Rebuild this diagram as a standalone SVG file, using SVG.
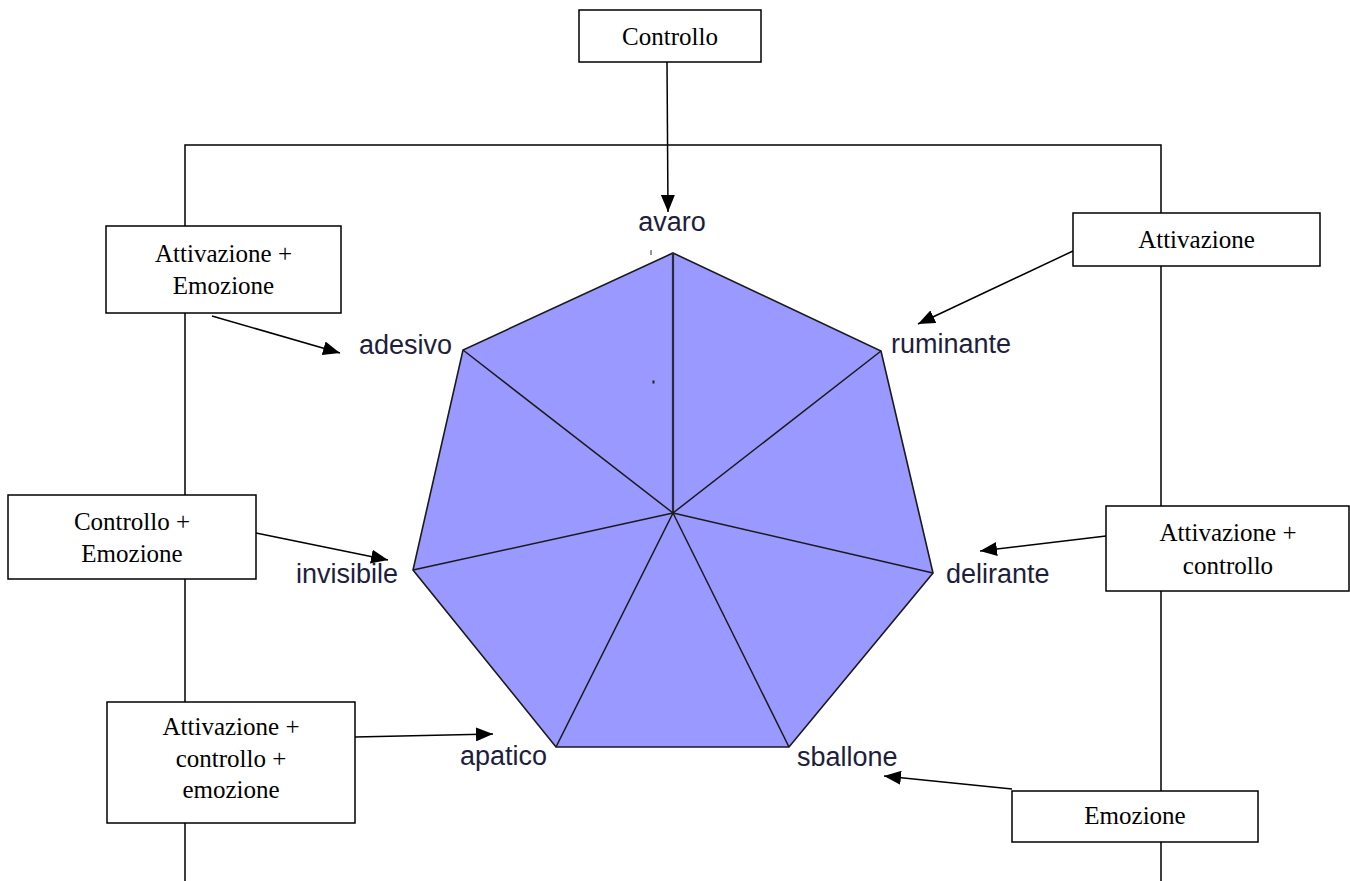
<svg xmlns="http://www.w3.org/2000/svg" width="1350" height="881" viewBox="0 0 1350 881">
<defs>
<style>
.box{fill:#fff;stroke:#000;stroke-width:1.5}
.bt{font-family:"Liberation Serif","Times New Roman",serif;font-size:25px;fill:#000;text-anchor:middle}
.lbl{font-family:"Liberation Sans",Arial,sans-serif;font-size:27px;fill:#1e1e3c}
.frame{fill:none;stroke:#000;stroke-width:1.5}
.arr{stroke:#000;stroke-width:1.5;fill:none;marker-end:url(#ah)}
.poly{fill:#9999ff;stroke:#1a1a1a;stroke-width:1.6;stroke-linejoin:miter}
.spoke{stroke:#1a1a1a;stroke-width:1.5}
</style>
<marker id="ah" markerUnits="userSpaceOnUse" markerWidth="18" markerHeight="14" refX="17" refY="7" orient="auto">
<path d="M0,0 L17,7 L0,14 Z" fill="#000"/>
</marker>
</defs>
<rect width="1350" height="881" fill="#fff"/>
<g id="frame">
<path class="frame" d="M185,881 V145 H1161 V881"/>
</g>
<g id="chart">
<polygon class="poly" points="673,253 881,351 933,573 789,747 556,747 413,570 463,350"/>
<line class="spoke" x1="673" y1="513" x2="673" y2="253" style="stroke-width:2.2;stroke:#2a2a3a"/>
<line class="spoke" x1="673" y1="513" x2="881" y2="351"/>
<line class="spoke" x1="673" y1="513" x2="933" y2="573"/>
<line class="spoke" x1="673" y1="513" x2="789" y2="747"/>
<line class="spoke" x1="673" y1="513" x2="556" y2="747"/>
<line class="spoke" x1="673" y1="513" x2="413" y2="570"/>
<line class="spoke" x1="673" y1="513" x2="463" y2="350"/>
<line x1="651" y1="250" x2="651" y2="255" stroke="#333" stroke-width="1"/>
<rect x="652.5" y="380.5" width="2" height="3" fill="#222"/>
<text class="lbl" x="672" y="231" text-anchor="middle">avaro</text>
<text class="lbl" x="891" y="353">ruminante</text>
<text class="lbl" x="946" y="583">delirante</text>
<text class="lbl" x="797" y="766">sballone</text>
<text class="lbl" x="547" y="765" text-anchor="end">apatico</text>
<text class="lbl" x="398" y="583" text-anchor="end">invisibile</text>
<text class="lbl" x="452" y="354" text-anchor="end">adesivo</text>
</g>
<g id="connectors">
<line class="arr" x1="667" y1="62" x2="668" y2="212"/>
<line class="arr" x1="212" y1="316" x2="340" y2="353"/>
<line class="arr" x1="1073" y1="251" x2="918" y2="324"/>
<line class="arr" x1="256" y1="533" x2="388" y2="560"/>
<line class="arr" x1="1106" y1="536" x2="980" y2="551"/>
<line class="arr" x1="355" y1="737" x2="493" y2="734"/>
<line class="arr" x1="1012" y1="789" x2="884" y2="776"/>
</g>
<g id="n-controllo">
<rect class="box" x="579" y="10" width="182" height="52"/>
<text class="bt" x="670" y="45">Controllo</text>
</g>
<g id="n-attivazione-emozione">
<rect class="box" x="106" y="226" width="235" height="87"/>
<text class="bt" x="223.5" y="262">Attivazione +</text>
<text class="bt" x="223.5" y="294">Emozione</text>
</g>
<g id="n-attivazione">
<rect class="box" x="1073" y="213" width="247" height="53"/>
<text class="bt" x="1196.5" y="248">Attivazione</text>
</g>
<g id="n-controllo-emozione">
<rect class="box" x="8" y="495" width="248" height="84"/>
<text class="bt" x="132" y="530">Controllo +</text>
<text class="bt" x="132" y="562">Emozione</text>
</g>
<g id="n-attivazione-controllo">
<rect class="box" x="1106" y="506" width="243" height="85"/>
<text class="bt" x="1228" y="541">Attivazione +</text>
<text class="bt" x="1228" y="574">controllo</text>
</g>
<g id="n-attivazione-controllo-emozione">
<rect class="box" x="107" y="702" width="248" height="121"/>
<text class="bt" x="231" y="735">Attivazione +</text>
<text class="bt" x="231" y="767">controllo +</text>
<text class="bt" x="231" y="798">emozione</text>
</g>
<g id="n-emozione">
<rect class="box" x="1012" y="791" width="246" height="51"/>
<text class="bt" x="1135" y="824">Emozione</text>
</g>
</svg>
